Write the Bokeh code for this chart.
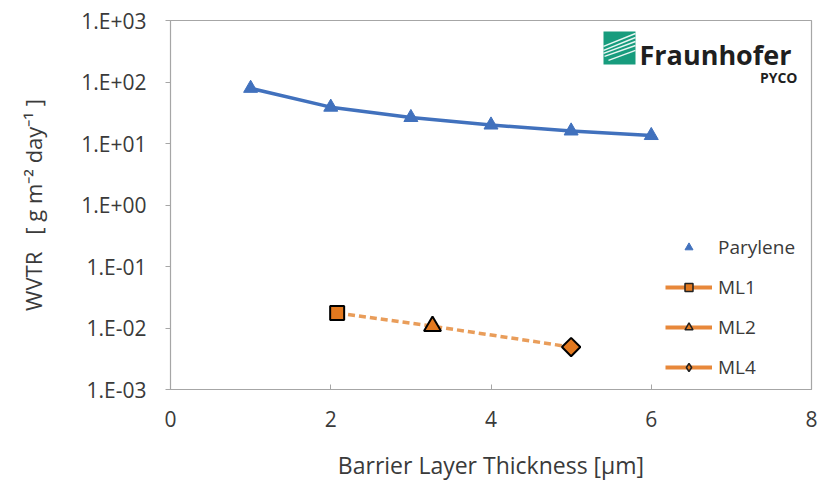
import numpy as np
from bokeh.plotting import figure
from bokeh.models import (Range1d, FixedTicker, CustomJSTickFormatter, Legend,
                          LegendItem, Label, BoxAnnotation)
from bokeh.embed import file_html
from bokeh.resources import INLINE

# ---------------- data ----------------
parylene_x = [1, 2, 3, 4, 5, 6]
parylene_y = [79, 39, 26.5, 20, 16, 13.5]

ml_labels = ["ML1", "ML2", "ML4"]
ml_x = [2.08, 3.27, 5.0]
ml_y = [0.0175, 0.0107, 0.0049]

x_ticks = [0, 2, 4, 6, 8]
y_ticks = [1e-3, 1e-2, 1e-1, 1e0, 1e1, 1e2, 1e3]
y_tick_labels = ["1.E-03", "1.E-02", "1.E-01", "1.E+00", "1.E+01", "1.E+02", "1.E+03"]

# ---------------- layout ----------------
W, H = 818, 483
FL, FT = 170, 20
FR = W - 811
FB = H - 390
FW = W - FL - FR
FH = H - FT - FB
FONT = "Open Sans"
TXT = "#3a3a3a"
GRAY = "#A6A6A6"
BLUE = "#4171BD"
ORANGE = "#E3791F"
ORANGE_LINE = "#E99D5A"
NBSP = "\u00a0"

p = figure(width=W, height=H, x_range=Range1d(0, 8), y_range=Range1d(1e-3, 1e3),
           y_axis_type="log", output_backend="svg", toolbar_location=None,
           min_border_left=FL, min_border_right=FR, min_border_top=FT,
           min_border_bottom=FB)
p.xgrid.grid_line_color = None
p.ygrid.grid_line_color = None
p.outline_line_color = GRAY
p.outline_line_width = 1.2

# x axis
xa = p.xaxis[0]
xa.ticker = FixedTicker(ticks=x_ticks)
xa.axis_line_color = GRAY
xa.major_tick_line_color = GRAY
xa.major_tick_in = 5
xa.major_tick_out = 0
xa.minor_tick_line_color = None
xa.major_label_text_font = FONT
xa.major_label_text_font_size = "21px"
xa.major_label_text_color = TXT
xa.major_label_standoff = 21
xa.axis_label = "Barrier Layer Thickness [µm]"
xa.axis_label_text_font = FONT
xa.axis_label_text_font_size = "23px"
xa.axis_label_text_font_style = "normal"
xa.axis_label_text_color = TXT
xa.axis_label_standoff = 19

# y axis
ya = p.yaxis[0]
ya.ticker = FixedTicker(ticks=y_ticks)
ya.formatter = CustomJSTickFormatter(args=dict(tvals=y_ticks, tlabels=y_tick_labels), code="""
    let best = 0, bd = 1e9;
    for (let i = 0; i < tvals.length; i++) {
        const d = Math.abs(Math.log10(tvals[i]) - Math.log10(tick));
        if (d < bd) { bd = d; best = i; }
    }
    return tlabels[best];
""")
ya.axis_line_color = GRAY
ya.major_tick_line_color = GRAY
ya.major_tick_in = 0
ya.major_tick_out = 5
ya.minor_tick_line_color = None
ya.major_label_text_font = FONT
ya.major_label_text_font_size = "21px"
ya.major_label_text_color = TXT
ya.major_label_standoff = 19
ya.axis_label = ("WVTR" + NBSP + NBSP + NBSP + "[" + NBSP + "g" + NBSP + "m\u207b\u00b2"
                 + NBSP + "day\u207b\u00b9" + NBSP + "]")
ya.axis_label_text_font = FONT
ya.axis_label_text_font_size = "22px"
ya.axis_label_text_font_style = "normal"
ya.axis_label_text_color = TXT
ya.axis_label_standoff = 30

# ---------------- series ----------------
p.line(parylene_x, parylene_y, line_color=BLUE, line_width=3.5)
par_sc = p.scatter(parylene_x, parylene_y, marker="triangle", size=14,
                   fill_color=BLUE, line_color=BLUE)

p.line(ml_x, ml_y, line_color=ORANGE_LINE, line_width=3.5, line_dash="7 4")

ml_styles = [dict(marker="square", size=14, angle=0.0),
             dict(marker="triangle", size=17, angle=0.0),
             dict(marker="square", size=13, angle=np.pi / 4)]
legend_styles = [dict(marker="square", size=10),
                 dict(marker="triangle", size=12),
                 dict(marker="diamond", size=13)]

legend_line = p.line(x=[np.nan, np.nan], y=[np.nan, np.nan],
                     line_color="#E8883A", line_width=4)

items = [LegendItem(label="Parylene", renderers=[par_sc])]
for i, lab in enumerate(ml_labels):
    st = ml_styles[i]
    p.scatter(x=[ml_x[i]], y=[ml_y[i]], marker=st["marker"], size=st["size"],
              angle=st["angle"], fill_color=ORANGE, line_color="black",
              line_width=2)
    ls = legend_styles[i]
    lr = p.scatter(x=[np.nan], y=[np.nan], marker=ls["marker"], size=ls["size"],
                   fill_color=ORANGE, line_color="#222222", line_width=1.5)
    items.append(LegendItem(label=lab, renderers=[legend_line, lr]))

legend = Legend(items=items, location=(495, 9), border_line_color=None,
                background_fill_alpha=0, label_text_font=FONT,
                label_text_font_size="19px", label_text_color=TXT,
                glyph_width=47, glyph_height=20, spacing=14, padding=0,
                margin=0, label_standoff=6)
p.add_layout(legend)

# ---------------- logo ----------------
def px2x(px):
    return (px - FL) / FW * 8.0

def py2y(py):
    return 10 ** (3 - (py - FT) / FH * 6.0)

p.add_layout(BoxAnnotation(left=px2x(603), right=px2x(635), top=py2y(31),
                           bottom=py2y(64), fill_color="#179C7D", fill_alpha=1,
                           line_color=None, level="underlay"))
logo_lines = [((603, 46), (635, 33)), ((603, 50), (635, 37)),
              ((603, 53), (635, 41)), ((604, 56), (635, 45)),
              ((608, 60), (635, 50))]
for (a, b) in logo_lines:
    p.line([px2x(a[0]), px2x(b[0])], [py2y(a[1]), py2y(b[1])],
           line_color="white", line_width=1.5, alpha=0.9)

p.add_layout(Label(x=px2x(639), y=py2y(54), text="Fraunhofer",
                   text_font=FONT, text_font_style="bold",
                   text_font_size="27px", text_color="#1f1f1f",
                   text_baseline="alphabetic"))
p.add_layout(Label(x=px2x(797), y=py2y(77), text="PYCO",
                   text_font=FONT, text_font_style="bold",
                   text_font_size="14px", text_color="#1f1f1f",
                   text_align="right", text_baseline="alphabetic"))

open("out.html", "w").write(file_html(p, INLINE))
